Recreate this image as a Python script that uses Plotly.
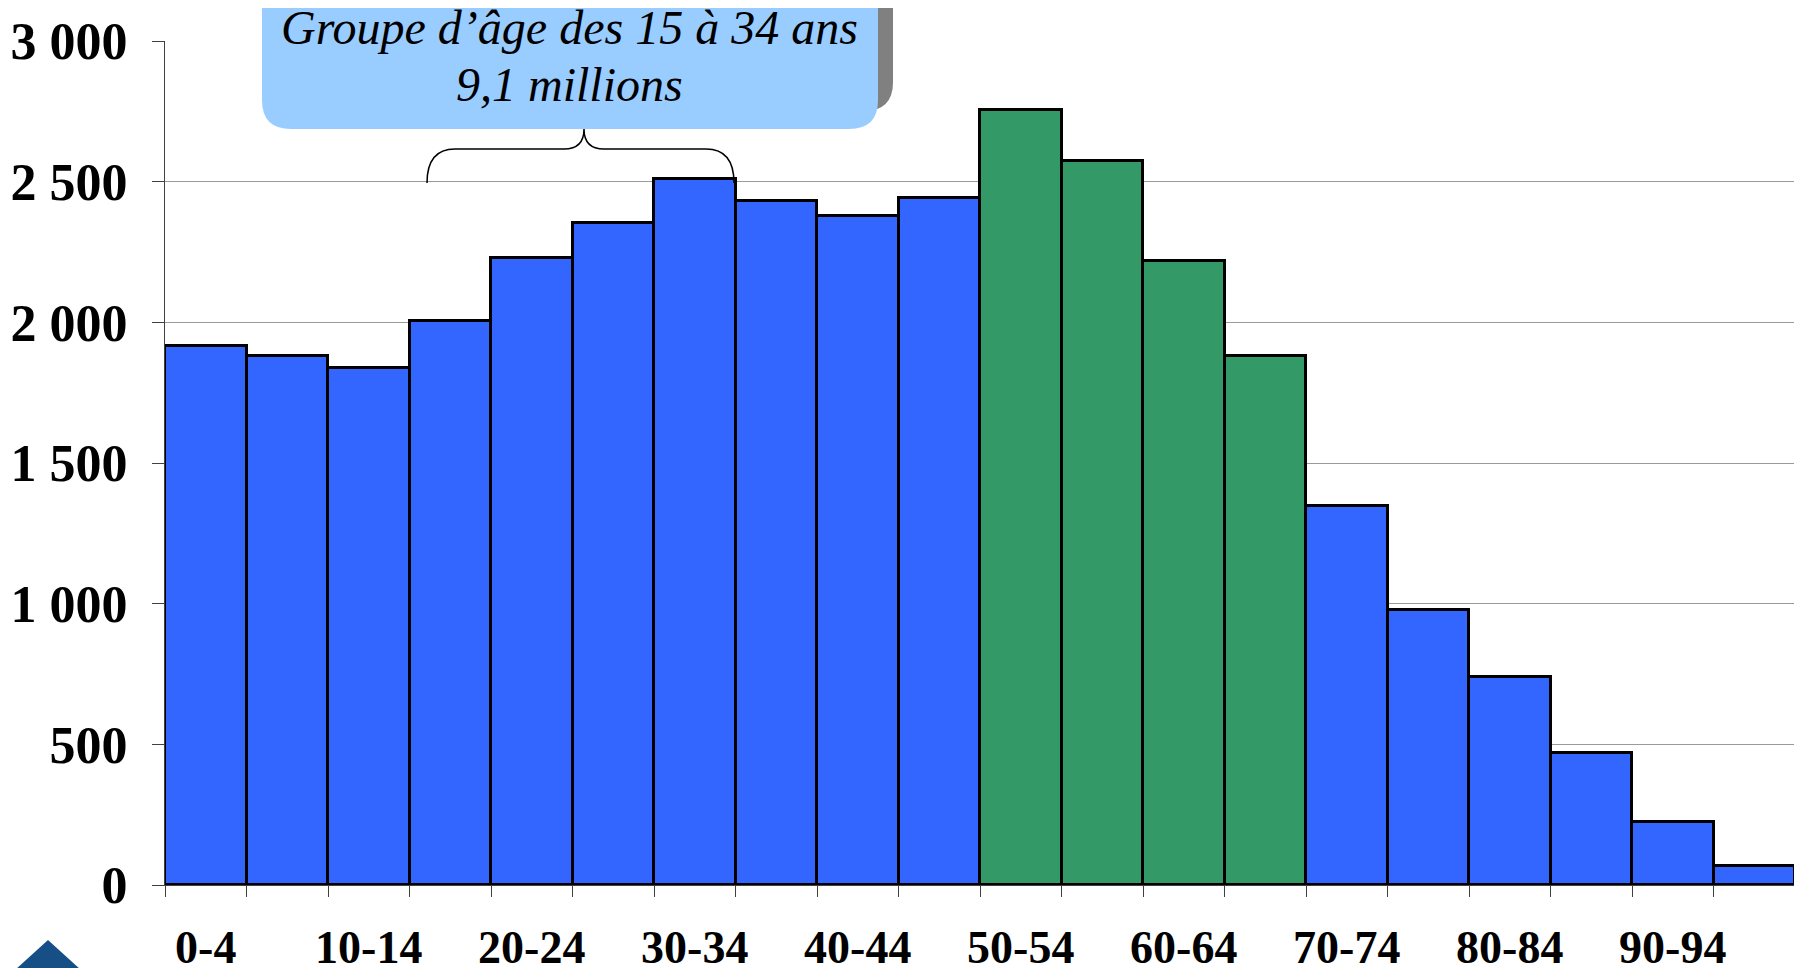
import plotly.graph_objects as go

# Population by age group (thousands)
age_groups = ['0-4', '5-9', '10-14', '15-19', '20-24', '25-29', '30-34', '35-39', '40-44', '45-49',
              '50-54', '55-59', '60-64', '65-69', '70-74', '75-79', '80-84', '85-89', '90-94', '95-99']
population = [1916, 1879, 1838, 2006, 2230, 2353, 2508, 2431, 2377, 2443,
              2753, 2574, 2218, 1879, 1348, 976, 739, 470, 225, 69]
highlight = ['50-54', '55-59', '60-64', '65-69']

ytickvals = [0, 500, 1000, 1500, 2000, 2500, 3000]
yticktext = ['0', '500', '1 000', '1 500', '2 000', '2 500', '3 000']
xticktext = [g if i % 2 == 0 else '' for i, g in enumerate(age_groups)]

BLUE = '#3366ff'
GREEN = '#339966'
colors = [GREEN if g in highlight else BLUE for g in age_groups]

W, H = 1802, 968
OFF = 8  # page body margin
ML, MR, MT, MB = 157, 15, 33, 91
PW, PH = W - ML - MR, H - MT - MB


def px(X):
    """screen pixel x -> paper x"""
    return (X - OFF - ML) / PW


def py(Y):
    """screen pixel y -> paper y"""
    return (H - MB - (Y - OFF)) / PH


fig = go.Figure()
fig.add_trace(go.Bar(x=age_groups, y=population, marker=dict(color=colors, line=dict(color='black', width=3)),
                     hoverinfo='x+y'))

serif = 'Liberation Serif, Times New Roman, serif'

fig.update_layout(
    width=W, height=H, margin=dict(l=ML, r=MR, t=MT, b=MB),
    plot_bgcolor='white', paper_bgcolor='white', showlegend=False, bargap=0,
    xaxis=dict(type='category', categoryorder='array', categoryarray=age_groups,
               tickvals=age_groups, ticktext=xticktext, tickson='boundaries', tickangle=0,
               ticks='outside', ticklen=11, tickcolor='#404040', tickwidth=1,
               showline=True, linecolor='#404040', linewidth=1, showgrid=False, automargin=False,
               tickfont=dict(family=serif, size=46, color='black', weight='bold'),
               ticklabelstandoff=22),
    yaxis=dict(range=[0, 3000], tickvals=ytickvals, ticktext=yticktext,
               ticks='outside', ticklen=12, tickcolor='#404040', tickwidth=1,
               showline=True, linecolor='#404040', linewidth=1, automargin=False,
               showgrid=True, gridcolor='#9a9a9a', gridwidth=1, zeroline=False,
               tickfont=dict(family=serif, size=52, color='black', weight='bold'),
               ticklabelstandoff=14),
)

# callout box shadow and box (rounded bottom corners)
def rounded_box(x0, x1, ybot, ytop, r=29):
    rx, ry = r / PW, r / PH
    a0, a1, b0, b1 = px(x0), px(x1), py(ybot), py(ytop)
    return (f'M {a0},{b1} L {a0},{b0 + ry} Q {a0},{b0} {a0 + rx},{b0} '
            f'L {a1 - rx},{b0} Q {a1},{b0} {a1},{b0 + ry} L {a1},{b1} Z')


fig.add_shape(type='path', xref='paper', yref='paper', path=rounded_box(300, 893, 111, -20),
              fillcolor='#808080', line=dict(width=0), layer='above')
fig.add_shape(type='path', xref='paper', yref='paper', path=rounded_box(262, 878, 129, -20),
              fillcolor='#99ccff', line=dict(width=0), layer='above')

# curly brace under the box
bx0, bx1, bmid = 427, 734, 584
by_end, by_bar, by_tip = 183, 149, 129
brace = (f'M {px(bx0)},{py(by_end)} Q {px(bx0)},{py(by_bar)} {px(bx0 + 28)},{py(by_bar)} '
         f'L {px(bmid - 20)},{py(by_bar)} Q {px(bmid)},{py(by_bar)} {px(bmid)},{py(by_tip)} '
         f'Q {px(bmid)},{py(by_bar)} {px(bmid + 20)},{py(by_bar)} '
         f'L {px(bx1 - 28)},{py(by_bar)} Q {px(bx1)},{py(by_bar)} {px(bx1)},{py(by_end)}')
fig.add_shape(type='path', xref='paper', yref='paper', path=brace,
              line=dict(color='black', width=1.5), layer='above')

callout_font = dict(family=serif, size=48, color='black', style='italic')
fig.add_annotation(xref='paper', yref='paper', x=px(569), y=py(28), xanchor='center', yanchor='middle',
                   text='Groupe d’âge des 15 à 34 ans', showarrow=False, font=callout_font)
fig.add_annotation(xref='paper', yref='paper', x=px(569), y=py(84), xanchor='center', yanchor='middle',
                   text='9,1 millions', showarrow=False, font=callout_font)

# logo fragment bottom-left
fig.add_shape(type='path', xref='paper', yref='paper',
              path=f'M {px(15)},{py(970)} L {px(48)},{py(940)} L {px(81)},{py(970)} Z',
              fillcolor='#164f85', line=dict(width=0), layer='above')

fig.write_html('out.html')
